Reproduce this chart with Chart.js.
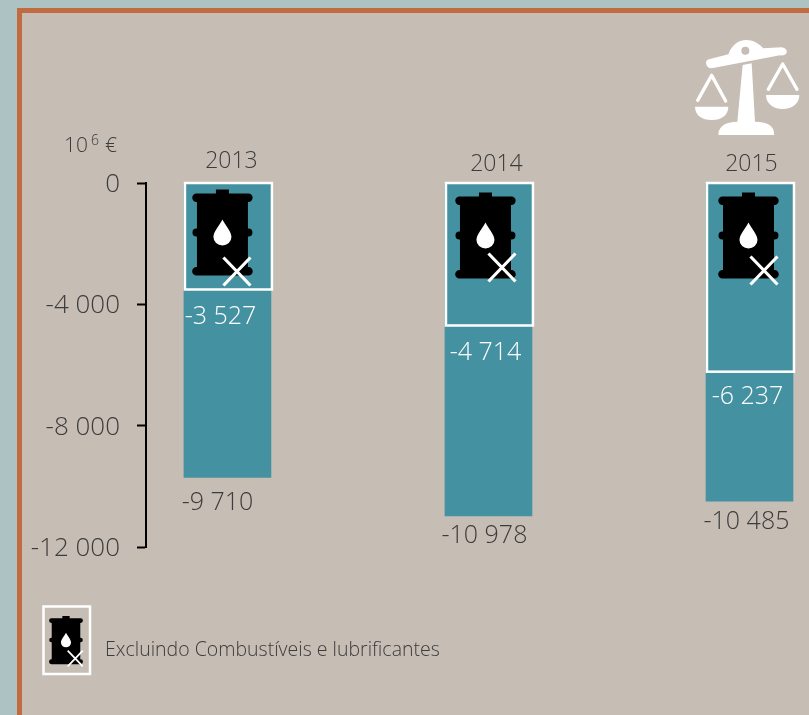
<!DOCTYPE html>
<html>
<head>
<meta charset="utf-8">
<script src="https://cdn.jsdelivr.net/npm/chart.js@4/dist/chart.umd.min.js"></script>
<style>
    html, body { margin: 0; padding: 0; width: 809px; height: 715px; overflow: hidden; background: #adc3c3; }
    #frame { position: absolute; left: 17px; top: 8px; width: 800px; height: 720px; background: #c6bdb4; border: 5px solid #c26a40; box-sizing: border-box; }
    #chart { position: absolute; left: 0; top: 0; }
    .txt { position: absolute; font-family: "Open Sans", sans-serif; font-weight: 300; color: #3c3c3c; white-space: nowrap; line-height: 1; }
    #unit { left: 64px; top: 134px; font-size: 21px; }
    #unit sup { font-size: 14px; position: relative; top: -7px; vertical-align: baseline; margin: 0 6px 0 3px; }
    #legendText { left: 105px; top: 639px; font-size: 19.5px; }
    #scales { position: absolute; left: 660px; top: 20px; }
</style>
</head>
<body>
<div id="frame"></div>
<canvas id="chart" width="809" height="715"></canvas>
<div class="txt" id="unit">10<sup>6</sup>€</div>
<div class="txt" id="legendText">Excluindo Combustíveis e lubrificantes</div>
<svg id="scales" width="149" height="130" viewBox="0 0 447 390">
    <path fill="#fff" fill-rule="evenodd" d="M147 118 L205 103 C215 75 235 60 258 60 C285 60 300 75 310 85 L365 82 Q382 85 380 98 Q375 108 360 106 L155 145 Q140 145 138 130 Q138 120 147 118 Z M268 92 A12 12 0 1 0 244 92 A12 12 0 1 0 268 92 Z"/>
    <path fill="#fff" d="M248 135 L275 130 L285 305 C325 305 345 320 342 345 L175 345 C175 320 195 305 232 305 Z"/>
    <path fill="#fff" d="M105 260 L205 260 C205 285 185 300 155 300 C125 300 105 285 105 260 Z"/>
    <path fill="#fff" d="M318 225 L418 225 C418 250 398 267 368 267 C338 267 318 250 318 225 Z"/>
    <path fill="none" stroke="#fff" stroke-width="10" stroke-linecap="round" stroke-linejoin="round" d="M113 241 L155 166 L197 243 M325 208 L368 132 L411 208"/>
</svg>
<script>
// Data (10^6 EUR)
const years = [2013, 2014, 2015];
const totals = [-9710, -10978, -10485];
const excludingFuels = [-3527, -4714, -6237];
const yTicks = [0, -4000, -8000, -12000];
const yTickLabels = ['0', '-4 000', '-8 000', '-12 000'];

const teal = '#4492a1';
const dark = '#3c3c3c';
const yearFont = '300 23px "Open Sans", sans-serif';
const labelFont = '300 25px "Open Sans", sans-serif';

// Label and icon offsets per bar, relative to the bar they belong to
const yearNudge = [[4, -22], [8, -19], [2, -19]];
const totalNudge = [[-10, 25], [-4, 20], [-3, 21]];
const excludingNudge = [[-7, 27], [-3, 27], [-2, 25]];
const barrelNudge = [[-5, 6], [-3, 9], [-1, 9]];
const crossNudge = [[0, 68], [2, 61], [1, 64]];

function fmt(v) {
    return '-' + String(Math.abs(v)).replace(/\B(?=(\d{3})+$)/g, ' ');
}

// Barrel icon, origin at the middle of the cap
const barrelPath = new Path2D(
    'M-6.5 0 H6.5 V5 H-6.5 Z' +
    'M-26 4 H26 A4.2 4.2 0 0 1 26 12.4 H25.5 V39 H26 A4 4 0 0 1 26 47 H25.5 V77.4 H26 A4.3 4.3 0 0 1 26 86 H-26 A4.3 4.3 0 0 1 -26 77.4 H-25.5 V47 H-26 A4 4 0 0 1 -26 39 H-25.5 V12.4 H-26 A4.2 4.2 0 0 1 -26 4 Z'
);
const dropPath = new Path2D('M0 30 C3 36 9 42 9 47.5 A9 8.5 0 0 1 -9 47.5 C-9 42 -3 36 0 30 Z');

function drawBarrel(ctx, x, y, s, cx, cy) {
    ctx.save();
    ctx.translate(x, y);
    ctx.scale(s, s);
    ctx.fillStyle = '#000';
    ctx.fill(barrelPath);
    ctx.fillStyle = '#fff';
    ctx.fill(dropPath);
    ctx.strokeStyle = '#fff';
    ctx.lineWidth = 3.2;
    ctx.beginPath();
    ctx.moveTo(cx + 1, cy);
    ctx.lineTo(cx + 28, cy + 28);
    ctx.moveTo(cx + 28, cy);
    ctx.lineTo(cx + 1, cy + 28);
    ctx.stroke();
    ctx.restore();
}

const overlayPlugin = {
    id: 'overlay',
    afterDatasetsDraw(chart) {
        const ctx = chart.ctx;
        const totalBars = chart.getDatasetMeta(0).data;
        const excludingBars = chart.getDatasetMeta(1).data;
        ctx.save();
        ctx.textAlign = 'center';
        ctx.textBaseline = 'middle';
        years.forEach(function (year, i) {
            const total = totalBars[i];
            const excl = excludingBars[i];
            const half = excl.width / 2;

            // white outline of the excluding-fuels bar
            ctx.strokeStyle = '#fff';
            ctx.lineWidth = 2.5;
            ctx.strokeRect(excl.x - half + 1, excl.base - 0.5, excl.width, excl.y - excl.base);

            drawBarrel(ctx, excl.x + barrelNudge[i][0], excl.base + barrelNudge[i][1], 1, crossNudge[i][0], crossNudge[i][1]);

            ctx.fillStyle = dark;
            ctx.font = yearFont;
            ctx.fillText(String(year), total.x + yearNudge[i][0], total.base + yearNudge[i][1]);
            ctx.font = labelFont;
            ctx.fillText(fmt(totals[i]), total.x + totalNudge[i][0], total.y + totalNudge[i][1]);
            ctx.fillStyle = '#fff';
            ctx.fillText(fmt(excludingFuels[i]), excl.x + excludingNudge[i][0], excl.y + excludingNudge[i][1]);
        });

        // legend symbol
        ctx.strokeStyle = '#fff';
        ctx.lineWidth = 2.5;
        ctx.strokeRect(43.5, 606.5, 46.5, 67.5);
        drawBarrel(ctx, 66, 616, 0.56, 2, 62);
        ctx.restore();
    }
};

document.addEventListener('DOMContentLoaded', function () {
    const chartCtx = document.getElementById('chart').getContext('2d');
    new Chart(chartCtx, {
        type: 'bar',
        data: {
            datasets: [{
                label: 'Total',
                data: years.map(function (y, i) { return { x: y, y: totals[i] }; }),
                backgroundColor: teal,
                barThickness: 87,
                grouped: false,
                order: 2
            }, {
                label: 'Excluindo Combustíveis e lubrificantes',
                data: years.map(function (y, i) { return { x: y, y: excludingFuels[i] }; }),
                backgroundColor: 'transparent',
                barThickness: 87,
                grouped: false,
                order: 1
            }]
        },
        options: {
            responsive: false,
            animation: false,
            layout: { padding: { top: 183, bottom: 168, left: 0, right: 0 } },
            plugins: {
                legend: { display: false },
                tooltip: { enabled: false }
            },
            scales: {
                x: {
                    type: 'linear',
                    display: false,
                    offset: false,
                    min: 2012.688,
                    max: 2015.228
                },
                y: {
                    min: -12000,
                    max: 0,
                    afterFit: function (scale) { scale.width = 146; },
                    afterBuildTicks: function (scale) {
                        scale.ticks = yTicks.map(function (v) { return { value: v }; });
                    },
                    border: { color: '#000', width: 2 },
                    grid: { drawOnChartArea: false, tickLength: 9, tickColor: '#000', tickWidth: 2 },
                    ticks: {
                        padding: 17,
                        color: dark,
                        // empty first line moves the digits down to the tick
                        font: { family: '"Open Sans", sans-serif', size: 26, weight: '300', lineHeight: '3px' },
                        callback: function (value) {
                            return ['', yTickLabels[yTicks.indexOf(value)]];
                        }
                    }
                }
            }
        },
        plugins: [overlayPlugin]
    });
});
</script>
</body>
</html>
